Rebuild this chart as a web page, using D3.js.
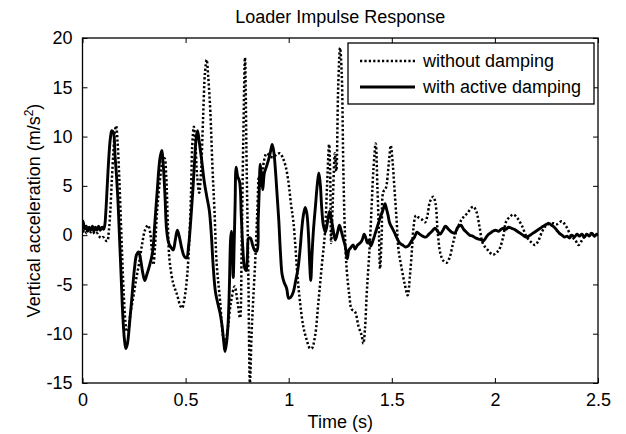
<!DOCTYPE html>
<html>
<head>
<meta charset="utf-8">
<script src="https://cdn.jsdelivr.net/npm/d3@7"></script>
<style>
  body { margin: 0; background: #fff; }
  svg { display: block; font-family: "Liberation Sans", Arial, sans-serif; }
</style>
</head>
<body>
<div id="chart"></div>
<script>
// chart data

const titleText = "Loader Impulse Response";
const seriesNames = ["without damping", "with active damping"];
const xTicks = [0, 0.5, 1, 1.5, 2, 2.5];
const yTicks = [-15, -10, -5, 0, 5, 10, 15, 20];

// without damping (dotted)
const timeNoDamp = [0.000, 0.010, 0.020, 0.030, 0.040, 0.050, 0.060, 0.070, 0.080, 0.090, 0.100, 0.110, 0.120, 0.128, 0.135, 0.142, 0.150, 0.157, 0.163, 0.170, 0.178, 0.186, 0.193, 0.200, 0.208, 0.215, 0.222, 0.232, 0.247, 0.260, 0.275, 0.290, 0.303, 0.318, 0.328, 0.336, 0.344, 0.352, 0.362, 0.375, 0.388, 0.398, 0.406, 0.414, 0.422, 0.440, 0.458, 0.475, 0.483, 0.495, 0.508, 0.518, 0.526, 0.532, 0.540, 0.547, 0.556, 0.566, 0.575, 0.585, 0.594, 0.602, 0.610, 0.620, 0.630, 0.640, 0.651, 0.667, 0.680, 0.691, 0.705, 0.720, 0.738, 0.752, 0.764, 0.772, 0.780, 0.788, 0.796, 0.804, 0.812, 0.820, 0.828, 0.838, 0.848, 0.856, 0.864, 0.872, 0.880, 0.893, 0.910, 0.925, 0.942, 0.958, 0.972, 0.985, 0.998, 1.012, 1.022, 1.032, 1.042, 1.055, 1.071, 1.087, 1.103, 1.112, 1.128, 1.144, 1.160, 1.176, 1.186, 1.196, 1.201, 1.206, 1.214, 1.224, 1.231, 1.240, 1.249, 1.257, 1.265, 1.273, 1.281, 1.294, 1.305, 1.322, 1.338, 1.354, 1.362, 1.370, 1.378, 1.386, 1.394, 1.403, 1.411, 1.422, 1.430, 1.438, 1.443, 1.451, 1.459, 1.470, 1.486, 1.495, 1.504, 1.512, 1.524, 1.532, 1.548, 1.564, 1.577, 1.588, 1.597, 1.605, 1.617, 1.629, 1.645, 1.661, 1.673, 1.685, 1.701, 1.712, 1.722, 1.735, 1.750, 1.766, 1.780, 1.795, 1.810, 1.839, 1.865, 1.895, 1.910, 1.925, 1.941, 1.965, 1.990, 2.005, 2.020, 2.040, 2.055, 2.075, 2.090, 2.110, 2.130, 2.155, 2.180, 2.195, 2.210, 2.230, 2.250, 2.283, 2.300, 2.324, 2.345, 2.370, 2.390, 2.405, 2.420, 2.440, 2.460, 2.480, 2.500];
const accelNoDamp = [0.3, 0.5, 0.2, 0.6, 0.3, 0.4, 0.1, 0.2, -0.1, -0.3, -0.2, -0.5, -0.6, 0.5, 2.5, 5.5, 8.5, 10.5, 11.1, 9.5, 6.0, 1.5, -2.5, -6.0, -8.8, -9.8, -9.6, -8.0, -6.2, -4.5, -2.8, -0.8, 0.5, 1.0, 0.3, -1.5, -3.0, -1.0, 2.5, 5.5, 7.4, 7.8, 6.0, 1.0, -2.5, -4.9, -6.0, -7.2, -7.4, -6.4, -4.0, -0.5, 4.0, 9.0, 11.0, 9.5, 6.0, 4.3, 6.5, 12.0, 16.5, 17.8, 16.0, 12.5, 7.0, 2.5, -3.0, -6.6, -10.0, -11.2, -9.4, -6.8, -5.2, -6.8, -8.4, -1.0, 10.0, 18.0, 7.0, -3.5, -15.0, -10.0, -6.5, -2.5, 2.5, 6.0, 5.0, 5.8, 7.5, 8.3, 8.0, 7.9, 8.2, 8.3, 7.8, 7.0, 5.5, 3.0, 1.5, -1.0, -4.0, -6.8, -9.3, -10.6, -11.5, -11.5, -10.2, -6.8, -3.2, 0.3, 5.0, 9.2, 6.5, -0.8, 3.5, 8.3, 6.5, 15.0, 19.0, 16.5, 6.7, 0.0, -3.4, -6.1, -7.5, -7.8, -9.2, -10.2, -11.0, -9.5, -6.1, -3.4, -0.7, 3.3, 6.7, 9.3, 5.0, 0.0, -3.4, 0.0, 4.4, 4.7, 7.4, 9.1, 7.4, 5.0, 1.3, -1.4, -3.4, -5.1, -6.1, -4.1, -1.7, 0.7, 2.0, 1.8, 1.6, 1.3, 2.0, 3.4, 3.9, 3.2, 0.5, -1.8, -2.6, -2.8, -2.3, -1.0, 0.2, 1.6, 2.2, 2.9, 2.4, 0.9, -0.8, -1.5, -2.0, -1.8, -1.5, -0.2, 1.4, 1.9, 2.1, 1.7, 1.0, -0.2, -0.8, -1.0, -0.6, 0.4, 1.0, 1.2, 1.1, 1.4, 0.9, -0.1, -0.5, -1.0, -0.6, 0.0, 0.2, -0.1, 0.0];

// with active damping (solid)
const timeDamp = [0.000, 0.005, 0.010, 0.018, 0.025, 0.032, 0.040, 0.048, 0.055, 0.062, 0.070, 0.078, 0.086, 0.095, 0.102, 0.108, 0.113, 0.120, 0.128, 0.135, 0.142, 0.150, 0.158, 0.165, 0.172, 0.180, 0.188, 0.195, 0.203, 0.210, 0.218, 0.228, 0.240, 0.252, 0.262, 0.272, 0.282, 0.292, 0.302, 0.312, 0.325, 0.340, 0.350, 0.362, 0.375, 0.384, 0.392, 0.400, 0.408, 0.418, 0.428, 0.440, 0.450, 0.460, 0.470, 0.482, 0.495, 0.505, 0.515, 0.525, 0.535, 0.545, 0.552, 0.558, 0.566, 0.578, 0.590, 0.602, 0.615, 0.625, 0.634, 0.645, 0.657, 0.667, 0.677, 0.685, 0.691, 0.698, 0.706, 0.712, 0.718, 0.722, 0.727, 0.731, 0.736, 0.740, 0.745, 0.752, 0.762, 0.770, 0.778, 0.786, 0.794, 0.800, 0.806, 0.815, 0.825, 0.836, 0.846, 0.852, 0.857, 0.862, 0.868, 0.874, 0.882, 0.893, 0.903, 0.912, 0.920, 0.928, 0.936, 0.944, 0.952, 0.960, 0.968, 0.978, 0.990, 1.000, 1.010, 1.022, 1.035, 1.045, 1.055, 1.063, 1.071, 1.080, 1.088, 1.096, 1.102, 1.107, 1.113, 1.120, 1.130, 1.138, 1.146, 1.153, 1.160, 1.168, 1.178, 1.188, 1.198, 1.207, 1.216, 1.226, 1.236, 1.246, 1.255, 1.265, 1.275, 1.284, 1.292, 1.300, 1.312, 1.322, 1.334, 1.346, 1.356, 1.366, 1.374, 1.382, 1.390, 1.398, 1.408, 1.420, 1.432, 1.444, 1.453, 1.461, 1.467, 1.474, 1.482, 1.490, 1.500, 1.512, 1.525, 1.538, 1.552, 1.566, 1.580, 1.595, 1.610, 1.622, 1.635, 1.650, 1.665, 1.680, 1.695, 1.710, 1.722, 1.735, 1.748, 1.760, 1.775, 1.790, 1.805, 1.820, 1.835, 1.848, 1.862, 1.878, 1.892, 1.908, 1.922, 1.936, 1.944, 1.952, 1.965, 1.978, 1.990, 2.004, 2.018, 2.030, 2.042, 2.054, 2.066, 2.080, 2.094, 2.108, 2.122, 2.136, 2.150, 2.164, 2.178, 2.192, 2.206, 2.220, 2.234, 2.250, 2.262, 2.275, 2.288, 2.300, 2.312, 2.325, 2.338, 2.350, 2.362, 2.374, 2.386, 2.398, 2.410, 2.422, 2.434, 2.446, 2.458, 2.470, 2.482, 2.494, 2.500];
const accelDamp = [1.5, 1.2, 0.6, 0.9, 0.4, 0.8, 0.5, 0.9, 0.4, 0.8, 0.5, 0.9, 0.5, 0.8, 0.6, 1.0, 2.3, 5.0, 8.0, 9.8, 10.6, 10.4, 8.0, 6.0, 3.5, -0.5, -4.5, -8.0, -10.5, -11.5, -11.0, -9.0, -6.2, -3.4, -2.0, -1.7, -2.5, -3.8, -4.6, -4.0, -3.1, -1.7, 1.0, 4.4, 7.7, 8.6, 7.0, 4.0, 0.5, -0.8, -1.2, -1.5, -0.5, 0.5, -0.2, -1.4, -2.2, -2.3, -1.0, 1.5, 4.5, 8.0, 10.0, 10.6, 9.5, 7.6, 5.5, 4.0, 2.5, 0.0, -3.2, -5.8, -7.0, -7.9, -9.2, -10.8, -11.8, -11.0, -9.0, -5.5, -0.5, 0.4, -1.5, -4.3, -0.5, 3.0, 6.9, 6.0, 5.4, 2.0, -1.5, -3.3, -3.6, -2.0, -0.3, -0.3, -1.0, -1.6, -1.6, 1.5, 4.5, 7.2, 6.0, 4.6, 6.3, 7.0, 7.7, 8.5, 9.2, 8.4, 6.5, 4.0, 1.5, -1.8, -4.0, -4.8, -5.4, -6.4, -6.3, -5.8, -4.5, -3.4, -1.5, 0.5, 2.0, 2.8, 2.2, 0.0, -3.0, -4.6, -2.0, 0.5, 3.0, 5.0, 6.3, 5.2, 2.8, 1.0, 0.3, 1.3, 2.4, 1.6, 0.5, -0.5, 0.2, 1.0, 0.4, -0.4, -1.2, -2.4, -1.5, -1.3, -1.0, -1.4, -1.0, -0.8, -0.5, 0.1, -0.3, -0.8, -0.5, -1.1, -0.6, 0.2, 1.0, 1.8, 2.3, 2.8, 3.2, 2.7, 2.0, 1.2, 0.8, 0.3, -0.3, -0.8, -1.0, -1.2, -1.1, -0.6, -0.2, 0.3, 0.1, -0.1, -0.2, 0.1, 0.4, 0.7, 0.4, 0.1, 0.5, 0.9, 0.6, 0.3, 0.2, 0.8, 1.0, 0.6, 0.3, 0.0, -0.1, -0.3, -0.4, -0.5, -0.6, -0.4, 0.0, 0.2, 0.4, 0.5, 0.4, 0.6, 0.7, 0.6, 0.8, 0.7, 0.6, 0.4, 0.2, 0.0, -0.2, -0.1, 0.1, 0.3, 0.5, 0.7, 0.9, 1.1, 1.2, 1.0, 0.8, 0.5, 0.2, 0.0, -0.2, -0.1, -0.3, 0.0, -0.2, 0.1, -0.1, 0.1, -0.2, 0.1, -0.1, 0.2, -0.1, 0.1, 0.0];

const width = 626;
const height = 434;
const margin = { top: 38, right: 28, bottom: 51, left: 82.5 };
const fontSize = 18;

const svg = d3.select("#chart").append("svg")
    .attr("width", width)
    .attr("height", height);

const x = d3.scaleLinear().domain([0, 2.5]).range([margin.left, width - margin.right]);
const y = d3.scaleLinear().domain([-15, 20]).range([height - margin.bottom, margin.top]);

// clip the traces to the axes box
svg.append("clipPath").attr("id", "plot-clip")
  .append("rect")
    .attr("x", x(0)).attr("y", y(20))
    .attr("width", x(2.5) - x(0)).attr("height", y(-15) - y(20));

const line = d3.line()
    .x(d => x(d[0]))
    .y(d => y(d[1]))
    .curve(d3.curveCatmullRom.alpha(0.5));

const noDamp = timeNoDamp.map((t, i) => [t, accelNoDamp[i]]);
const damp = timeDamp.map((t, i) => [t, accelDamp[i]]);

const traces = svg.append("g").attr("clip-path", "url(#plot-clip)");

traces.append("path")
    .datum(noDamp)
    .attr("fill", "none")
    .attr("stroke", "#000")
    .attr("stroke-width", 2.5)
    .attr("stroke-dasharray", "2.2,2.2")
    .attr("d", line);

traces.append("path")
    .datum(damp)
    .attr("fill", "none")
    .attr("stroke", "#000")
    .attr("stroke-width", 2.9)
    .attr("stroke-linejoin", "round")
    .attr("d", line);

// axes, MATLAB style: inward ticks on all four sides
const tickLen = 5;
const fmt = d => String(d);

const axisStyle = g => {
  g.select(".domain").remove();
  g.selectAll("line").attr("stroke", "#000");
  g.selectAll("text").attr("fill", "#000").style("font-size", fontSize + "px");
};

svg.append("g")
    .attr("transform", `translate(0,${y(-15)})`)
    .call(d3.axisBottom(x).tickValues(xTicks).tickFormat(fmt).tickSizeInner(-tickLen).tickSizeOuter(0).tickPadding(10))
    .call(axisStyle);

svg.append("g")
    .attr("transform", `translate(0,${y(20)})`)
    .call(d3.axisTop(x).tickValues(xTicks).tickFormat("").tickSizeInner(-tickLen).tickSizeOuter(0))
    .call(axisStyle);

svg.append("g")
    .attr("transform", `translate(${x(0)},0)`)
    .call(d3.axisLeft(y).tickValues(yTicks).tickFormat(fmt).tickSizeInner(-tickLen).tickSizeOuter(0).tickPadding(10))
    .call(axisStyle);

svg.append("g")
    .attr("transform", `translate(${x(2.5)},0)`)
    .call(d3.axisRight(y).tickValues(yTicks).tickFormat("").tickSizeInner(-tickLen).tickSizeOuter(0))
    .call(axisStyle);

// box
svg.append("rect")
    .attr("x", x(0)).attr("y", y(20))
    .attr("width", x(2.5) - x(0)).attr("height", y(-15) - y(20))
    .attr("fill", "none")
    .attr("stroke", "#000")
    .attr("stroke-width", 1.3);

// title and axis labels
svg.append("text")
    .attr("x", (x(0) + x(2.5)) / 2)
    .attr("y", 23)
    .attr("text-anchor", "middle")
    .style("font-size", fontSize + "px")
    .text(titleText);

svg.append("text")
    .attr("x", (x(0) + x(2.5)) / 2)
    .attr("y", 428)
    .attr("text-anchor", "middle")
    .style("font-size", fontSize + "px")
    .text("Time (s)");

const yLabel = svg.append("text")
    .attr("transform", `translate(40,${(y(20) + y(-15)) / 2}) rotate(-90)`)
    .attr("text-anchor", "middle")
    .style("font-size", fontSize + "px");
yLabel.append("tspan").text("Vertical acceleration (m/s");
yLabel.append("tspan").attr("dy", -7).style("font-size", "12px").text("2");
yLabel.append("tspan").attr("dy", 7).text(")");

// legend
const legend = svg.append("g").attr("transform", "translate(348,43)");
legend.append("rect")
    .attr("width", 246).attr("height", 61)
    .attr("fill", "#fff")
    .attr("stroke", "#000")
    .attr("stroke-width", 1.3);

const legendRows = [
  { name: seriesNames[0], dash: "2.2,2.2", w: 2.5 },
  { name: seriesNames[1], dash: null, w: 2.9 }
];

legendRows.forEach((r, i) => {
  const cy = 18 + i * 26;
  legend.append("line")
      .attr("x1", 12).attr("x2", 67)
      .attr("y1", cy).attr("y2", cy)
      .attr("stroke", "#000")
      .attr("stroke-width", r.w)
      .attr("stroke-dasharray", r.dash);
  legend.append("text")
      .attr("x", 75).attr("y", cy + 6)
      .style("font-size", fontSize + "px")
      .text(r.name);
});
</script>
</body>
</html>
